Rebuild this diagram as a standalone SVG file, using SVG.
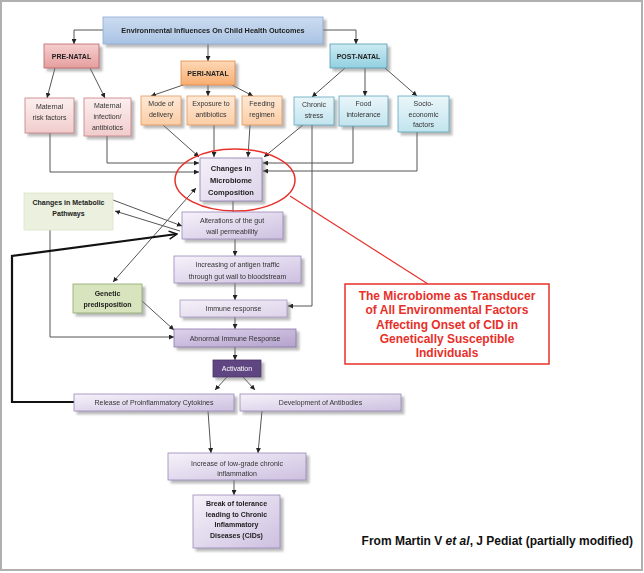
<svg xmlns="http://www.w3.org/2000/svg" width="644" height="573" viewBox="0 0 644 573">
<style>
.t{font-family:"Liberation Sans",Arial,sans-serif;font-size:7px;fill:#333;text-anchor:middle}
.b{font-weight:bold;fill:#222}
.c{stroke:#555;stroke-width:1;fill:none}
.box{filter:url(#sh)}
.pur{fill:url(#gPur);stroke:#9a88b8;stroke-width:0.8}
.pink{fill:url(#gPink);stroke:#c77d7f;stroke-width:0.8}
.org{fill:url(#gOrg);stroke:#e0985c;stroke-width:0.8}
.cyan{fill:url(#gCyan);stroke:#5ea5bb;stroke-width:0.8}
.red{font-family:"Liberation Sans",Arial,sans-serif;font-size:12px;font-weight:bold;fill:#e8302a;text-anchor:middle}
</style>
<defs>
<filter id="sh" x="-20%" y="-20%" width="150%" height="160%">
<feDropShadow dx="3" dy="3" stdDeviation="1.2" flood-color="#777" flood-opacity="0.5"/>
</filter>
<linearGradient id="gPur" x1="0" y1="0" x2="1" y2="1"><stop offset="0" stop-color="#f6f2fa"/><stop offset="1" stop-color="#cdc0e0"/></linearGradient>
<linearGradient id="gPurD" x1="0" y1="0" x2="1" y2="1"><stop offset="0" stop-color="#ddd2ec"/><stop offset="1" stop-color="#b4a2cc"/></linearGradient>
<linearGradient id="gPurL" x1="0" y1="0" x2="1" y2="1"><stop offset="0" stop-color="#f4f0f8"/><stop offset="1" stop-color="#ddd3ea"/></linearGradient>
<linearGradient id="gPink" x1="0" y1="0" x2="0" y2="1"><stop offset="0" stop-color="#fcefef"/><stop offset="1" stop-color="#f1cccc"/></linearGradient>
<linearGradient id="gPinkD" x1="0" y1="0" x2="0" y2="1"><stop offset="0" stop-color="#f6cfcf"/><stop offset="1" stop-color="#e59e9e"/></linearGradient>
<linearGradient id="gOrg" x1="0" y1="0" x2="0" y2="1"><stop offset="0" stop-color="#fee9d6"/><stop offset="1" stop-color="#fbcda6"/></linearGradient>
<linearGradient id="gOrgD" x1="0" y1="0" x2="0" y2="1"><stop offset="0" stop-color="#fdd8b6"/><stop offset="1" stop-color="#f8ae70"/></linearGradient>
<linearGradient id="gCyan" x1="0" y1="0" x2="0" y2="1"><stop offset="0" stop-color="#eaf6fa"/><stop offset="1" stop-color="#c2e4ee"/></linearGradient>
<linearGradient id="gCyanD" x1="0" y1="0" x2="0" y2="1"><stop offset="0" stop-color="#cdebf3"/><stop offset="1" stop-color="#92d0e0"/></linearGradient>
<linearGradient id="gBlue" x1="0" y1="0" x2="0" y2="1"><stop offset="0" stop-color="#ccdcf0"/><stop offset="1" stop-color="#aac3e4"/></linearGradient>
<marker id="ar" viewBox="0 0 6 6" refX="6" refY="3" markerWidth="5" markerHeight="5" markerUnits="userSpaceOnUse" orient="auto-start-reverse"><path d="M0,0 L6,3 L0,6 z" fill="#222"/></marker>
<marker id="op" viewBox="0 0 10 10" refX="9" refY="5" markerWidth="10" markerHeight="10" markerUnits="userSpaceOnUse" orient="auto"><path d="M1,1 L9,5 L1,9" fill="none" stroke="#111" stroke-width="1.5"/></marker>
</defs>
<rect x="0" y="0" width="644" height="573" fill="#fff"/>
<rect x="1" y="1" width="641" height="569" fill="none" stroke="#b0b0b0" stroke-width="2"/>

<g id="connectors">
<path class="c" d="M103,30 H74 V44" marker-end="url(#ar)"/>
<path class="c" d="M323,30 H356 V44" marker-end="url(#ar)"/>
<path class="c" d="M208,44 V61" marker-end="url(#ar)"/>
<path class="c" d="M55,68 L47,98" marker-end="url(#ar)"/>
<path class="c" d="M90,68 L105,98" marker-end="url(#ar)"/>
<path class="c" d="M186,84 L151,96" marker-end="url(#ar)"/>
<path class="c" d="M208,85 V96" marker-end="url(#ar)"/>
<path class="c" d="M230,84 L253,96" marker-end="url(#ar)"/>
<path class="c" d="M345,68 L312,97" marker-end="url(#ar)"/>
<path class="c" d="M365,68 V96" marker-end="url(#ar)"/>
<path class="c" d="M385,68 L417,96" marker-end="url(#ar)"/>
<path class="c" d="M50,133 V172 H199" marker-end="url(#ar)"/>
<path class="c" d="M107,136 V163 H199" marker-end="url(#ar)"/>
<path class="c" d="M163,125 L199,157" marker-end="url(#ar)"/>
<path class="c" d="M214,125 V157" marker-end="url(#ar)"/>
<path class="c" d="M250,125 L248,157" marker-end="url(#ar)"/>
<path class="c" d="M303,125 L264,157" marker-end="url(#ar)"/>
<path class="c" d="M353,126 V163 H263" marker-end="url(#ar)"/>
<path class="c" d="M417,132 V171 H263" marker-end="url(#ar)"/>
<path class="c" d="M312,125 V306 H288" marker-end="url(#ar)"/>
<path class="c" d="M233,201 V212"/>
<path class="c" d="M235,239 V256" marker-end="url(#ar)"/>
<path class="c" d="M235,283 V300" marker-end="url(#ar)"/>
<path class="c" d="M235,317 V329" marker-end="url(#ar)"/>
<path class="c" d="M235,347 V360" marker-end="url(#ar)"/>
<path class="c" d="M227,377 L215,390" marker-end="url(#ar)"/>
<path class="c" d="M243,377 L255,390" marker-end="url(#ar)"/>
<path class="c" d="M208,411 L211,453" marker-end="url(#ar)"/>
<path class="c" d="M262,411 L258,453" marker-end="url(#ar)"/>
<path class="c" d="M234,480 V495" marker-end="url(#ar)"/>
<path class="c" d="M113,200 L182,226" marker-end="url(#ar)"/>
<path class="c" d="M180,231 L115,211" marker-end="url(#ar)"/>
<path class="c" d="M113,282 L196,188" marker-start="url(#ar)" marker-end="url(#ar)"/>
<path class="c" d="M142,301 L174,330" marker-end="url(#ar)"/>
<path class="c" d="M50,230 V337 H174" marker-end="url(#ar)"/>
<path d="M74,402 H12 V256 L177,234" fill="none" stroke="#111" stroke-width="2.2" marker-end="url(#op)"/>
<path d="M290,196 L428,284" fill="none" stroke="#e8302a" stroke-width="1.2"/>
</g>

<g id="title" class="box"><rect x="103" y="17" width="220" height="27" fill="url(#gBlue)" stroke="#8eaad2" stroke-width="0.8"/>
<text class="t b" x="213" y="33" style="font-size:7.3px">Environmental Influences On Child Health Outcomes</text></g>

<g id="prenatal" class="box"><rect x="44" y="44" width="55" height="24" fill="url(#gPinkD)" stroke="#bb6466" stroke-width="0.8"/>
<text class="t b" x="71.5" y="58.5">PRE-NATAL</text></g>
<g id="perinatal" class="box"><rect x="181" y="61" width="54" height="24" fill="url(#gOrgD)" stroke="#e08a48" stroke-width="0.8"/>
<text class="t b" x="208" y="75.5">PERI-NATAL</text></g>
<g id="postnatal" class="box"><rect x="330" y="44" width="57" height="24" fill="url(#gCyanD)" stroke="#4e9ab2" stroke-width="0.8"/>
<text class="t b" x="358.5" y="58.5">POST-NATAL</text></g>

<g id="maternal-risk" class="box"><rect class="pink" x="25" y="98" width="49" height="35"/>
<text class="t" x="49.5" y="109">Maternal</text><text class="t" x="49.5" y="120">risk factors</text></g>
<g id="maternal-infection" class="box"><rect class="pink" x="84" y="98" width="47" height="38"/>
<text class="t" x="107.5" y="108">Maternal</text><text class="t" x="107.5" y="119">infection/</text><text class="t" x="107.5" y="130">antibiotics</text></g>
<g id="mode-delivery" class="box"><rect class="org" x="141" y="96" width="40" height="29"/>
<text class="t" x="161" y="106">Mode of</text><text class="t" x="161" y="117">delivery</text></g>
<g id="exposure" class="box"><rect class="org" x="187" y="96" width="48" height="29"/>
<text class="t" x="211" y="106">Exposure to</text><text class="t" x="211" y="117">antibiotics</text></g>
<g id="feeding" class="box"><rect class="org" x="242" y="96" width="40" height="29"/>
<text class="t" x="262" y="106">Feeding</text><text class="t" x="262" y="117">regimen</text></g>
<g id="chronic-stress" class="box"><rect class="cyan" x="294" y="97" width="40" height="28"/>
<text class="t" x="314" y="106.5">Chronic</text><text class="t" x="314" y="117.5">stress</text></g>
<g id="food-intolerance" class="box"><rect class="cyan" x="339" y="96" width="49" height="30"/>
<text class="t" x="363.5" y="106">Food</text><text class="t" x="363.5" y="117">intolerance</text></g>
<g id="socio-economic" class="box"><rect class="cyan" x="398" y="96" width="51" height="36"/>
<text class="t" x="423.5" y="106">Socio-</text><text class="t" x="423.5" y="117">economic</text><text class="t" x="423.5" y="127">factors</text></g>

<g id="microbiome" class="box"><rect x="200" y="158" width="62" height="43" fill="url(#gPurL)" stroke="#8a7aaa" stroke-width="0.8"/>
<text class="t b" x="231" y="171" style="font-size:7.5px">Changes in</text><text class="t b" x="231" y="183" style="font-size:7.5px">Microbiome</text><text class="t b" x="231" y="195" style="font-size:7.5px">Composition</text></g>
<ellipse cx="235" cy="180" rx="60" ry="31" fill="none" stroke="#e8302a" stroke-width="1.5"/>

<g id="alterations" class="box"><rect class="pur" x="182" y="212" width="101" height="27"/>
<text class="t" x="232" y="222.5">Alterations of the gut</text><text class="t" x="232" y="234">wall permeability</text></g>
<g id="antigen-traffic" class="box"><rect class="pur" x="174" y="256" width="127" height="27"/>
<text class="t" x="237.5" y="266.5">Increasing of antigen traffic</text><text class="t" x="237.5" y="278.5">through gut wall to bloodstream</text></g>
<g id="immune-response" class="box"><rect x="180" y="300" width="107" height="17" fill="url(#gPurL)" stroke="#a898c4" stroke-width="0.8"/>
<text class="t" x="233.5" y="311">Immune response</text></g>
<g id="abnormal-immune" class="box"><rect x="174" y="329" width="122" height="18" fill="url(#gPurD)" stroke="#8a76aa" stroke-width="0.8"/>
<text class="t" x="235" y="340.5">Abnormal Immune Response</text></g>
<g id="activation" class="box"><rect x="213" y="360" width="48" height="17" fill="#5f4581" stroke="#4a3366" stroke-width="0.8"/>
<text class="t" x="237" y="371" style="fill:#fff">Activation</text></g>
<g id="cytokines" class="box"><rect class="pur" x="74" y="394" width="160" height="17"/>
<text class="t" x="154" y="405">Release of Proinflammatory Cytokines</text></g>
<g id="antibodies" class="box"><rect class="pur" x="240" y="394" width="161" height="17"/>
<text class="t" x="320.5" y="405">Development of Antibodies</text></g>
<g id="low-grade" class="box"><rect class="pur" x="168" y="453" width="138" height="27"/>
<text class="t" x="237" y="465.5">Increase of low-grade chronic</text><text class="t" x="237" y="476">inflammation</text></g>
<g id="break-tolerance" class="box"><rect class="pur" x="193" y="495" width="87" height="53"/>
<text class="t b" x="236.5" y="505.5">Break of tolerance</text><text class="t b" x="236.5" y="516.5">leading to Chronic</text><text class="t b" x="236.5" y="527">Inflammatory</text><text class="t b" x="236.5" y="537.5">Diseases (CIDs)</text></g>

<g id="metabolic"><rect x="24" y="193" width="89" height="37" fill="#ebf1de" stroke="#dbe6c8" stroke-width="0.8"/>
<text class="t b" x="68.5" y="205">Changes in Metabolic</text><text class="t b" x="68.5" y="216">Pathways</text></g>
<g id="genetic" class="box"><rect x="73" y="284" width="69" height="29" fill="#d7e4bd" stroke="#8fa86c" stroke-width="0.8"/>
<text class="t b" x="107.5" y="295.5">Genetic</text><text class="t b" x="107.5" y="306.5">predisposition</text></g>

<g id="annotation"><rect x="345" y="284" width="204" height="80" fill="#fff" stroke="#e8302a" stroke-width="1.5"/>
<text class="red" x="447" y="300">The Microbiome as Transducer</text>
<text class="red" x="447" y="314.3">of All Environmental Factors</text>
<text class="red" x="447" y="328.6">Affecting Onset of CID in</text>
<text class="red" x="447" y="342.9">Genetically Susceptible</text>
<text class="red" x="447" y="357.2">Individuals</text></g>

<text x="633" y="545" style="font-family:'Liberation Sans',Arial,sans-serif;font-size:12px;font-weight:bold;fill:#111;text-anchor:end">From Martin V <tspan font-style="italic">et al</tspan>, J Pediat (partially modified)</text>
</svg>
